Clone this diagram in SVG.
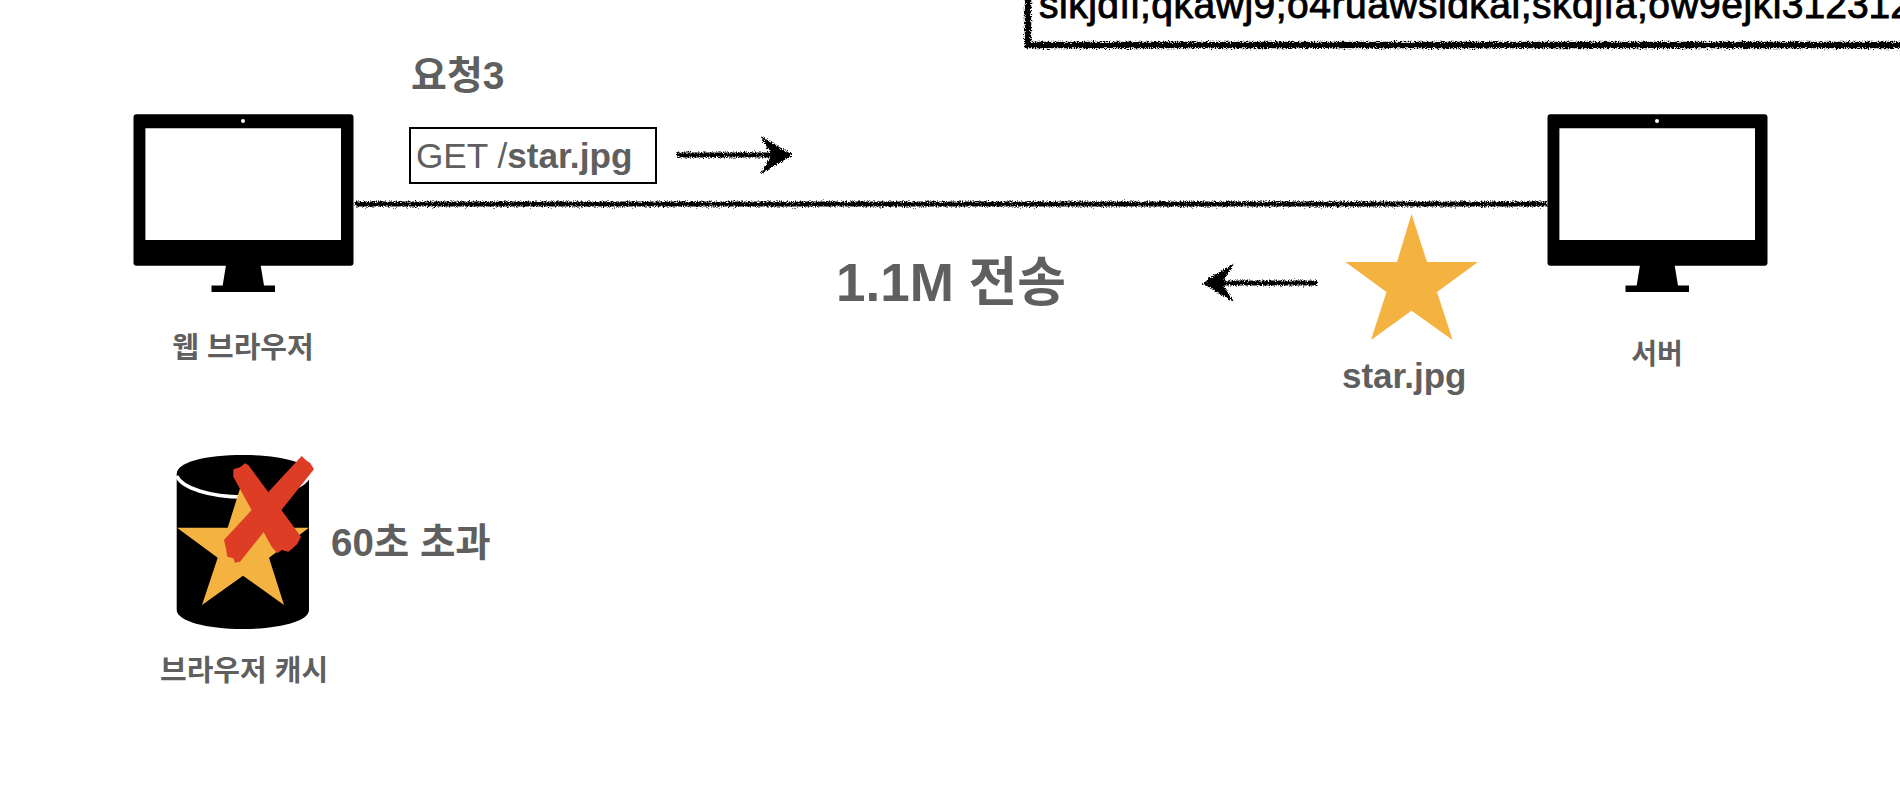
<svg xmlns="http://www.w3.org/2000/svg" width="1900" height="796" viewBox="0 0 1900 796">
<style>
text{font-family:"Liberation Sans","Noto Sans CJK KR",sans-serif;fill:#5f5f5f}
.b{font-weight:700}
.rough{fill:none;stroke:#000;stroke-width:5;filter:url(#r)}
.hd{fill:#000;stroke:#000;stroke-width:1;filter:url(#r)}
.star{fill:#f4b241}
</style>
<defs>
<filter id="r" x="0" y="0" width="1900" height="796" filterUnits="userSpaceOnUse">
<feTurbulence type="fractalNoise" baseFrequency="0.85" numOctaves="3" seed="3"/>
<feDisplacementMap in="SourceGraphic" scale="6" xChannelSelector="R" yChannelSelector="G"/>
</filter>
<g id="mon">
<path fill="#000" fill-rule="evenodd" d="M136.500 114.300H350.500a3 3 0 0 1 3 3V262.700a3 3 0 0 1-3 3H136.500a3 3 0 0 1-3-3V117.300a3 3 0 0 1 3-3ZM145.400 128.300V240H341V128.300Z"/>
<path fill="#000" d="M226 265H260.600L264 285.500H275V292H211.500V285.500H222.700Z"/>
<circle cx="243" cy="121" r="2" fill="#fff"/>
</g>
</defs>
<rect width="1900" height="796" fill="#fff"/>
<g id="top-box">
<path class="rough" style="stroke-width:6.500" d="M1028 -5V45H1905"/>
<text x="1039" y="18" font-size="39" style="fill:#000;stroke:#000;stroke-width:.9"><tspan letter-spacing=".5">slkjdfl;qkawj9;o4ruawsldkal;skdjfa;ow9ejkl</tspan>3123123</text>
</g>
<g id="connectors">
<path class="rough" d="M355 204H1548"/>
<path class="rough" d="M677 155H785"/>
<path class="hd" d="M761.500 137L792 155L761.500 173L772 155Z"/>
<path class="rough" d="M1317 283H1210"/>
<path class="hd" d="M1233 264L1203 283L1233 301L1222 283Z"/>
</g>
<g id="browser">
<use href="#mon"/>
<text class="b" x="243" y="358" font-size="29" text-anchor="middle">웹 브라우저</text>
</g>
<g id="server">
<use href="#mon" x="1414"/>
<text class="b" x="1657" y="364" font-size="28" text-anchor="middle">서버</text>
</g>
<g id="request">
<text class="b" x="411" y="89" font-size="39">요청3</text>
<rect x="410" y="128" width="246" height="55" fill="none" stroke="#000" stroke-width="2"/>
<text x="416" y="167.500" font-size="35.200">GET /<tspan class="b">star.jpg</tspan></text>
</g>
<g id="star-file">
<path class="star" d="M1411.500 214L1427 262H1478L1437 292L1452.600 340L1411.500 310.700L1371 340L1386.500 292L1345.400 262H1397Z"/>
<text class="b" x="1342" y="388" font-size="35">star.jpg</text>
</g>
<text class="b" x="836" y="301" font-size="53">1.1M 전송</text>
<g id="cache">
<path fill="#000" d="M176.700 474C176.700 462 206 455 243 455S309 462 309 474V610C309 621 280 629 243 629S176.700 621 176.700 610Z"/>
<path fill="none" stroke="#fff" stroke-width="3.500" d="M176.700 476C182 488 210 497 243 497S304 488 309 476"/>
<path class="star" d="M243 479L258 527.700H309L269 557.700L284 605L243 575.700L202 605L217.700 557.700L177 527.700H227.700Z"/>
<g fill="#dc3d24" transform="translate(140 440) scale(.3333)">
<path d="M280 88L300 82L315 70L325 75L483 290L472 312L458 325L445 335L425 330L412 340L395 320L280 110Z"/>
<path d="M485 48L500 62L510 68L522 88L300 365L285 368L280 355L262 350L258 325L252 300Z"/>
</g>
<text class="b" x="160" y="681" font-size="29">브라우저 캐시</text>
<text class="b" x="331" y="556" font-size="38.500">60초 초과</text>
</g>
</svg>
